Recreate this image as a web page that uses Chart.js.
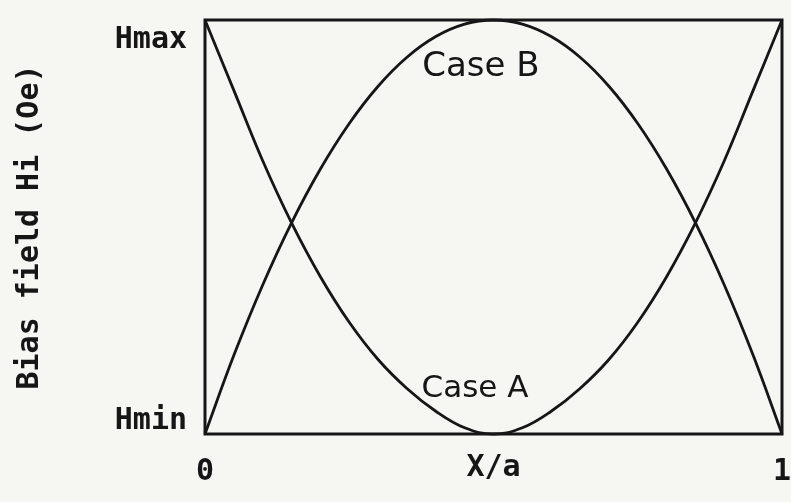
<!DOCTYPE html>
<html>
<head>
<meta charset="utf-8">
<script src="https://cdn.jsdelivr.net/npm/chart.js@4.4.1/dist/chart.umd.min.js"></script>
<style>
  html, body { margin: 0; padding: 0; background: #f6f6f3; }
  #wrap { width: 791px; height: 502px; position: relative; }
</style>
</head>
<body>
<div id="wrap"><canvas id="biasChart" width="791" height="502"></canvas></div>
<script>
// x / a positions
const xPos = [0, 0.05, 0.1, 0.15, 0.2, 0.25, 0.3, 0.35, 0.4, 0.45, 0.5,
  0.55, 0.6, 0.65, 0.7, 0.75, 0.8, 0.85, 0.9, 0.95, 1];
// bias field, 0 = Hmin, 1 = Hmax
const caseA = [1, 0.83, 0.66, 0.51, 0.38, 0.27, 0.18, 0.11, 0.055, 0.015, 0,
  0.015, 0.055, 0.11, 0.18, 0.27, 0.38, 0.51, 0.66, 0.83, 1];
const caseB = [0, 0.19, 0.36, 0.51, 0.64, 0.75, 0.84, 0.91, 0.96, 0.99, 1,
  0.99, 0.96, 0.91, 0.84, 0.75, 0.64, 0.51, 0.36, 0.19, 0];

const yTickVals = [0.03, 0.95];
const yTickNames = ["Hmin", "Hmax"];
const xTickVals = [0, 1];
const xTickNames = ["0", "1"];

const caseLabels = [
  { text: "Case B", x: 0.478, y: 0.885, size: 34 },
  { text: "Case A", x: 0.468, y: 0.11, size: 31 },
];

const ink = "#161616";
const monoFont = "'DejaVu Sans Mono', 'Liberation Mono', monospace";

const frameAndLabels = {
  id: "frameAndLabels",
  beforeDraw(chart) {
    const ctx = chart.ctx;
    ctx.save();
    ctx.fillStyle = "#f6f6f3";
    ctx.fillRect(0, 0, chart.width, chart.height);
    ctx.restore();
  },
  afterDatasetsDraw(chart) {
    const { ctx, chartArea, scales } = chart;
    ctx.save();
    ctx.strokeStyle = ink;
    ctx.lineWidth = 3;
    ctx.strokeRect(chartArea.left, chartArea.top,
      chartArea.right - chartArea.left, chartArea.bottom - chartArea.top);

    ctx.fillStyle = ink;
    ctx.textAlign = "center";
    ctx.textBaseline = "middle";
    caseLabels.forEach(l => {
      ctx.font = `${l.size}px 'DejaVu Sans', sans-serif`;
      ctx.fillText(l.text, scales.x.getPixelForValue(l.x), scales.y.getPixelForValue(l.y));
    });
    ctx.restore();
  },
};

const datasets = [
  { label: "Case A", data: xPos.map((x, i) => ({ x, y: caseA[i] })) },
  { label: "Case B", data: xPos.map((x, i) => ({ x, y: caseB[i] })) },
].map(d => ({
  ...d,
  borderColor: ink,
  borderWidth: 2.8,
  pointRadius: 0,
  tension: 0.4,
  fill: false,
  clip: 4,
}));

new Chart(document.getElementById("biasChart"), {
  type: "line",
  data: { datasets },
  plugins: [frameAndLabels],
  options: {
    responsive: false,
    animation: false,
    layout: { padding: { top: 20, right: 9, left: 0, bottom: 0 } },
    plugins: { legend: { display: false }, tooltip: { enabled: false } },
    scales: {
      x: {
        type: "linear",
        min: 0,
        max: 1,
        grid: { display: false },
        border: { display: false },
        afterBuildTicks(axis) {
          axis.ticks = xTickVals.map(v => ({ value: v }));
        },
        afterFit(axis) {
          axis.height = 68;
          axis.paddingLeft = 0;
          axis.paddingRight = 0;
        },
        ticks: {
          color: ink,
          padding: 12,
          maxRotation: 0,
          font: { family: monoFont, size: 30, weight: "bold" },
          callback: (v) => xTickNames[xTickVals.indexOf(v)],
        },
        title: {
          display: true,
          text: "X/a",
          color: ink,
          font: { family: monoFont, size: 30, weight: "bold" },
          padding: { top: 0, bottom: 16 },
        },
      },
      y: {
        type: "linear",
        min: 0,
        max: 1,
        grid: { display: false },
        border: { display: false },
        afterBuildTicks(axis) {
          axis.ticks = yTickVals.map(v => ({ value: v }));
        },
        afterFit(axis) {
          axis.width = 205;
          axis.paddingTop = 0;
          axis.paddingBottom = 0;
        },
        ticks: {
          color: ink,
          padding: 10,
          font: { family: monoFont, size: 30, weight: "bold" },
          callback: (v) => yTickNames[yTickVals.indexOf(v)],
        },
        title: {
          display: true,
          text: "Bias field Hi (Oe)",
          color: ink,
          font: { family: monoFont, size: 30, weight: "bold" },
          padding: { top: 12, bottom: 0 },
        },
      },
    },
  },
});
</script>
</body>
</html>
